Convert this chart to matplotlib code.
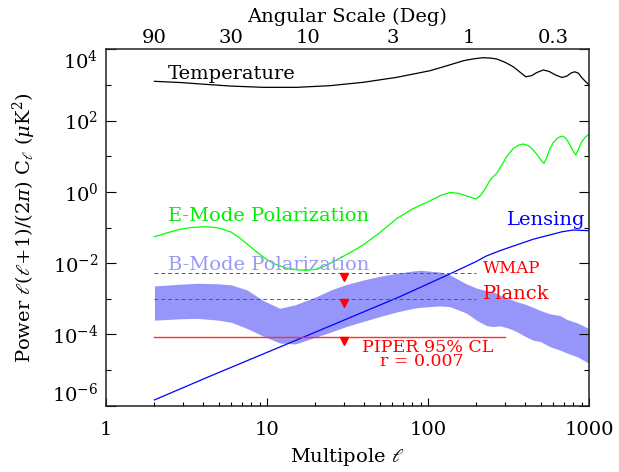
# CMB power spectra with B-mode upper limits (PIPER)
import matplotlib
matplotlib.use('Agg')
import matplotlib.pyplot as plt
import matplotlib.transforms as mtransforms

# temperature spectrum
ell_tt = [2, 3, 3.66, 5.9, 9.5, 15.3, 24.6, 39.6, 64, 103, 135, 166, 190, 220, 245, 267,
          300, 339, 375, 405, 440, 475, 520, 565, 620, 680, 730, 770, 815, 860, 900, 950, 1000]
cl_tt = [1265, 1160, 1084, 933, 857, 857, 955, 1186, 1637, 2512, 3600, 4786, 5370, 5821,
         5689, 5346, 4365, 3236, 2239, 1698, 1820, 2240, 2630, 2400, 1905, 1622, 1778, 2138,
         2344, 2138, 1622, 1259, 1000]

# E-mode spectrum
ell_ee = [2, 2.4, 2.88, 3.4, 4.0, 4.6, 5.1, 6, 6.8, 7.7, 8.6, 9.7, 10.9, 13, 15.3, 17.8,
          20.4, 23.5, 27.1, 33, 39.6, 50, 64, 80, 103, 120, 137, 155, 175, 199, 212, 226,
          243, 267, 290, 308, 339, 365, 391, 420, 450, 480, 505, 525, 545, 570, 600, 640,
          686, 720, 760, 800, 830, 860, 900, 950, 1000]
cl_ee = [0.0552, 0.0708, 0.0891, 0.1, 0.105, 0.102, 0.0955, 0.0741, 0.0501, 0.0316,
         0.0209, 0.0138, 9.9e-3, 7.4e-3, 6.5e-3, 6.3e-3, 6.8e-3, 8.7e-3, 0.0123, 0.02,
         0.0324, 0.0708, 0.178, 0.331, 0.562, 0.794, 0.955, 0.912, 0.759, 0.631, 0.794,
         1.2, 2.14, 3.31, 6.03, 9.77, 16.6, 20.4, 22.0, 20.0, 15.1, 10.5, 7.6, 6.3, 8.9,
         15.8, 24.0, 33.1, 36.9, 31.6, 21.4, 13.5, 10.8, 15.8, 25.1, 34.7, 41.2]

# lensing B-modes
ell_lens = [2, 4.28, 17.6, 67, 137, 200, 230, 280, 355, 450, 570, 680, 800, 1000]
cl_lens = [1.45e-6, 6.3e-6, 9.1e-5, 1.15e-3, 5.0e-3, 0.0112, 0.0158, 0.0224, 0.0324,
           0.0468, 0.0617, 0.0759, 0.0851, 0.0813]

# primordial B-mode band
ell_band = [2, 2.9, 3.7, 5, 6, 7.5, 9.5, 12, 15, 20, 25, 31, 40, 50, 64, 81, 90, 118,
            137, 173, 200, 230, 253, 280, 320, 355, 400, 450, 500, 570, 660, 730, 850, 1000]
band_hi = [2.29e-3, 2.57e-3, 2.72e-3, 2.63e-3, 2.45e-3, 1.78e-3, 8.9e-4, 5.4e-4, 6.8e-4,
           1.12e-3, 1.78e-3, 2.51e-3, 3.39e-3, 4.27e-3, 5.19e-3, 6.03e-3, 6.31e-3, 5.62e-3,
           4.68e-3, 2.63e-3, 2.0e-3, 1.70e-3, 1.58e-3, 1.26e-3, 1.0e-3, 8.3e-4, 7.1e-4,
           5.75e-4, 4.68e-4, 3.8e-4, 3.39e-4, 2.63e-4, 2.09e-4, 1.45e-4]
band_lo = [2.51e-4, 2.75e-4, 2.82e-4, 2.51e-4, 2.19e-4, 1.48e-4, 8.9e-5, 5.75e-5, 5.4e-5,
           8.3e-5, 1.17e-4, 1.66e-4, 2.34e-4, 3.16e-4, 4.27e-4, 5.4e-4, 5.75e-4, 6.3e-4,
           6.0e-4, 3.98e-4, 2.51e-4, 1.78e-4, 1.66e-4, 1.74e-4, 1.48e-4, 1.2e-4, 8.9e-5,
           6.9e-5, 6.3e-5, 4.57e-5, 3.63e-5, 3.0e-5, 2.34e-5, 1.55e-5]

# upper limits
limit_names = ['WMAP', 'Planck', 'PIPER']
limit_vals = [5.2e-3, 1.0e-3, 8.6e-5]
limit_lmin = [2, 2, 2]
limit_lmax = [200, 200, 300]
limit_ell = 30

# axis ticks
x_ticks = [1, 10, 100, 1000]
x_ticklabels = ['1', '10', '100', '1000']
y_ticks = [1e-6, 1e-4, 1e-2, 1, 1e2, 1e4]
y_ticklabels = ['$10^{-6}$', '$10^{-4}$', '$10^{-2}$', '$10^{0}$', '$10^{2}$', '$10^{4}$']
y_minor = [1e-5, 1e-3, 1e-1, 1e1, 1e3]
deg_ticks = [90, 30, 10, 3, 1, 0.3]
deg_labels = ['90', '30', '10', '3', '1', '0.3']

plt.rcParams['font.family'] = 'DejaVu Serif'
plt.rcParams['mathtext.fontset'] = 'dejavuserif'

fig = plt.figure(figsize=(6.19, 4.72), dpi=100)
ax = fig.add_axes([0.1712, 0.1405, 0.7803, 0.755])

band_col = '#9696fa'
ax.fill_between(ell_band, band_lo, band_hi, color=band_col, lw=0)
ax.plot(ell_tt, cl_tt, color='black', lw=0.9)
ax.plot(ell_ee, cl_ee, color='#00ff00', lw=0.9)
ax.plot(ell_lens, cl_lens, color='#0000ff', lw=0.9)

tri = mtransforms.offset_copy(ax.transData, fig=fig, x=0, y=-4, units='dots')
for name, v, l0, l1 in zip(limit_names, limit_vals, limit_lmin, limit_lmax):
    if name == 'PIPER':
        ax.plot([l0, l1], [v, v], color='#ff3030', lw=1.0)
    else:
        ax.plot([l0, l1], [v, v], color='#dd2020', lw=0.7, dashes=(4, 3))
    ax.plot([limit_ell], [v], marker='v', color='red', ms=6, transform=tri, ls='none')

fs = 14
ax.text(2.43, 2027, 'Temperature', fontsize=fs, va='center', color='black')
ax.text(2.43, 0.204, 'E-Mode Polarization', fontsize=fs, va='center', color='#00ee00')
ax.text(2.43, 8.9e-3, 'B-Mode Polarization', fontsize=fs, va='center', color='#9999f5')
ax.text(308, 0.1675, 'Lensing', fontsize=fs, va='center', color='#0000ff')
ax.text(220, 7.24e-3, 'WMAP', fontsize=12, va='center', color='red')
ax.text(220, 1.36e-3, 'Planck', fontsize=fs, va='center', color='red')
ax.text(38.7, 4.16e-5, 'PIPER 95% CL', fontsize=12.5, va='center', color='red')
ax.text(50.3, 1.79e-5, 'r = 0.007', fontsize=12.5, va='center', color='red')

ax.set_xscale('log')
ax.set_yscale('log')
ax.set_xlim(1, 1000)
ax.set_ylim(1e-6, 1e4)
ax.set_xticks(x_ticks)
ax.set_xticklabels(x_ticklabels)
ax.set_yticks(y_ticks)
ax.set_yticklabels(y_ticklabels)
ax.set_yticks(y_minor, minor=True)
ax.set_yticklabels([], minor=True)
ax.tick_params(axis='x', which='major', direction='in', top=True, length=5.5, width=0.8,
               labelsize=14, pad=11)
ax.tick_params(axis='x', which='minor', direction='in', top=True, length=2.6, width=0.8)
ax.tick_params(axis='y', which='major', direction='in', right=True, length=7.2, width=0.8,
               labelsize=14, pad=5.5)
ax.tick_params(axis='y', which='minor', direction='in', right=True, length=3.6, width=0.8)
ylabs = ax.get_yticklabels()
ylabs[0].set_va('bottom')
ylabs[-1].set_va('top')
for s in ax.spines.values():
    s.set_linewidth(1.1)
    s.set_color('#222222')

ax.set_xlabel(r'Multipole $\ell$', fontsize=14)
ax.xaxis.set_label_coords(0.5, -0.112)
ax.set_ylabel(r'Power $\ell(\ell$+1)/(2$\pi$) C$_\ell$ ($\mu$K$^2$)', fontsize=14)
ax.yaxis.set_label_coords(-0.14, 0.5)

# angular scale labels on top
ax2 = ax.twiny()
ax2.set_xscale('log')
ax2.set_xlim(ax.get_xlim())
ax2.set_xticks([180.0 / d for d in deg_ticks])
ax2.set_xticklabels(deg_labels)
ax2.xaxis.set_minor_locator(matplotlib.ticker.NullLocator())
ax2.tick_params(axis='x', length=0, labelsize=14, pad=2)
for s in ax2.spines.values():
    s.set_visible(False)
ax.text(0.5, 1.09, 'Angular Scale (Deg)', transform=ax.transAxes, fontsize=14,
        ha='center', va='center')

plt.savefig('out.png', dpi=100)
plt.close()
